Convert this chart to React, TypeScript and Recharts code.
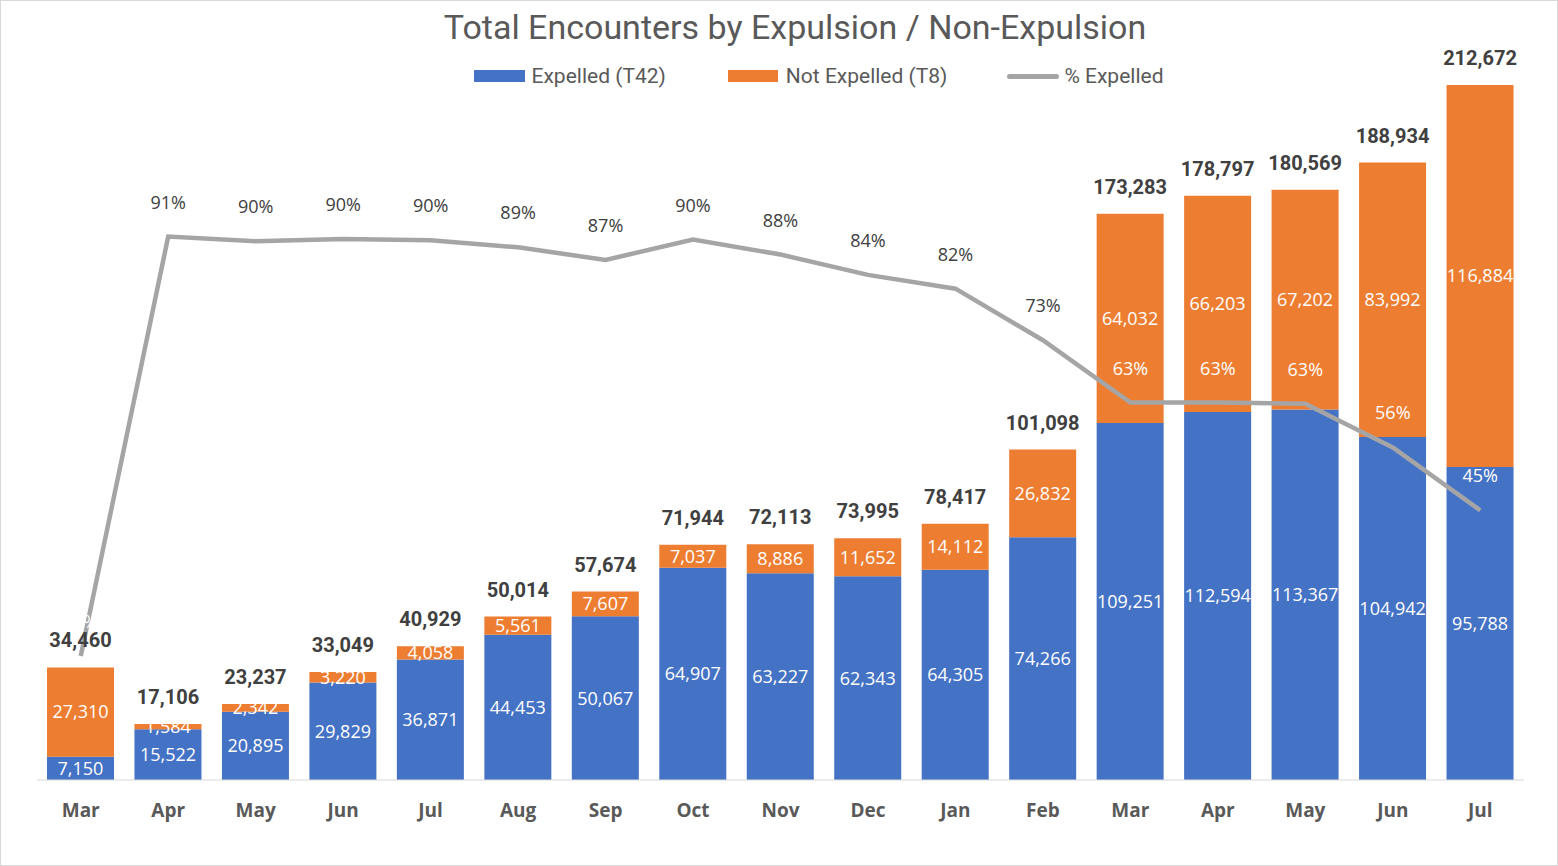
import React from "react";
import { ComposedChart, Bar, Line, XAxis, YAxis, LabelList, Legend } from "recharts";

const months = ["Mar", "Apr", "May", "Jun", "Jul", "Aug", "Sep", "Oct", "Nov", "Dec", "Jan", "Feb", "Mar", "Apr", "May", "Jun", "Jul"];
const expelled = [7150, 15522, 20895, 29829, 36871, 44453, 50067, 64907, 63227, 62343, 64305, 74266, 109251, 112594, 113367, 104942, 95788];
const notExpelled = [27310, 1584, 2342, 3220, 4058, 5561, 7607, 7037, 8886, 11652, 14112, 26832, 64032, 66203, 67202, 83992, 116884];
const totals = [34460, 17106, 23237, 33049, 40929, 50014, 57674, 71944, 72113, 73995, 78417, 101098, 173283, 178797, 180569, 188934, 212672];
const pctExpelled = [0.207, 0.907, 0.899, 0.903, 0.901, 0.889, 0.868, 0.902, 0.877, 0.843, 0.82, 0.734, 0.63, 0.63, 0.628, 0.555, 0.45];
const pctLabelWhite = [true, false, false, false, false, false, false, false, false, false, false, false, true, true, true, true, true];

const data = months.map((m, i) => ({
  key: `${m}-${i}`,
  month: m,
  exp: expelled[i],
  notExp: notExpelled[i],
  total: totals[i],
  pct: pctExpelled[i],
}));

const fmt = (v: number) => v.toLocaleString("en-US");

const BLUE = "#4472c4";
const ORANGE = "#ed7d31";
const GRAY = "#a5a5a5";

const LegendContent = () => (
  <div style={{ display: "flex", justifyContent: "center", alignItems: "center", height: 30, fontFamily: "Roboto", fontSize: 21, color: "#595959", paddingLeft: 76, boxSizing: "border-box" }}>
    <div style={{ display: "flex", alignItems: "center", marginRight: 62 }}>
      <div style={{ width: 51, height: 12, background: BLUE, marginRight: 7 }} />
      <span>Expelled (T42)</span>
    </div>
    <div style={{ display: "flex", alignItems: "center", marginRight: 60 }}>
      <div style={{ width: 50, height: 12, background: ORANGE, marginRight: 8 }} />
      <span>Not Expelled (T8)</span>
    </div>
    <div style={{ display: "flex", alignItems: "center" }}>
      <div style={{ width: 52, height: 5, background: GRAY, borderRadius: 3, marginRight: 5 }} />
      <span>% Expelled</span>
    </div>
  </div>
);

const PctLabel = (props: any) => {
  const { x, y, value, index } = props;
  return (
    <text x={x} y={y - 35} textAnchor="middle" dominantBaseline="central" fontFamily="Open Sans" fontSize={18} fill={pctLabelWhite[index] ? "#ffffff" : "#404040"}>
      {`${Math.round(value * 100)}%`}
    </text>
  );
};

const MonthTick = (props: any) => {
  const { x, y, payload } = props;
  return (
    <text x={x} y={y} dy={22} textAnchor="middle" dominantBaseline="central" fontFamily="Open Sans" fontWeight={700} fontSize={19} fill="#595959">
      {months[payload.index] ?? payload.value}
    </text>
  );
};

export default function App() {
  return (
    <div style={{ position: "absolute", left: 0, top: 0, width: 1558, height: 866, background: "#fff", border: "1px solid #d9d9d9", boxSizing: "border-box" }}>
      <div style={{ position: "absolute", top: 6, left: 0, width: "100%", textAlign: "center", fontFamily: "Roboto", fontSize: 34, color: "#595959", paddingLeft: 32, boxSizing: "border-box" }}>
        Total Encounters by Expulsion / Non-Expulsion
      </div>
      <ComposedChart width={1556} height={864} data={data} margin={{ top: 30, right: 33, left: 36, bottom: 45 }} barSize={67}>
        <Legend verticalAlign="top" content={LegendContent} wrapperStyle={{ top: 60 }} height={30} />
        <XAxis dataKey="key" tick={<MonthTick />} tickLine={false} axisLine={{ stroke: "#d9d9d9" }} height={40} interval={0} />
        <YAxis yAxisId="cnt" domain={[0, 220000]} hide />
        <YAxis yAxisId="pct" orientation="right" domain={[0, 1.2]} hide />
        <Bar yAxisId="cnt" dataKey="exp" stackId="a" fill={BLUE} isAnimationActive={false}>
          <LabelList dataKey="exp" position="center" fill="#ffffff" fontFamily="Open Sans" fontSize={18} formatter={(v: any) => fmt(Number(v))} />
        </Bar>
        <Bar yAxisId="cnt" dataKey="notExp" stackId="a" fill={ORANGE} isAnimationActive={false}>
          <LabelList dataKey="notExp" position="center" fill="#ffffff" fontFamily="Open Sans" fontSize={18} formatter={(v: any) => fmt(Number(v))} />
          <LabelList dataKey="total" position="top" offset={20} fill="#404040" fontFamily="Roboto" fontWeight={700} fontSize={20} formatter={(v: any) => fmt(Number(v))} />
        </Bar>
        <Line yAxisId="pct" dataKey="pct" stroke={GRAY} strokeWidth={4.5} dot={false} activeDot={false} isAnimationActive={false}>
          <LabelList dataKey="pct" content={<PctLabel />} />
        </Line>
      </ComposedChart>
    </div>
  );
}
